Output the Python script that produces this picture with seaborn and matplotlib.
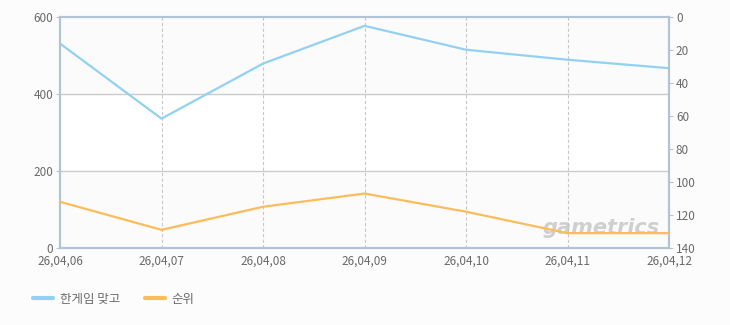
import matplotlib
matplotlib.use("Agg")
import matplotlib.pyplot as plt
import seaborn as sns
import pandas as pd

dates = ["26,04,06", "26,04,07", "26,04,08", "26,04,09", "26,04,10", "26,04,11", "26,04,12"]
users = [531, 336, 479, 577, 515, 489, 467]
rank = [112, 129, 115, 107, 118, 131, 131]
left_ticks = [0, 200, 400, 600]
right_ticks = [0, 20, 40, 60, 80, 100, 120, 140]
series_names = ["한게임 맞고", "순위"]

sns.set_style("white")
plt.rcParams['font.family'] = ['Noto Sans CJK KR', 'DejaVu Sans']

blue = "#92d1f1"
orange = "#fdbc5a"
spine_c = "#b3c3d6"
txt_c = "#6a6a6a"

df = pd.DataFrame({"x": range(len(dates)), "users": users, "rank": rank})

fig = plt.figure(figsize=(7.3, 3.25), dpi=100)
fig.patch.set_facecolor("#fcfcfc")
ax = fig.add_axes([60/730, 77/325, 609/730, 231/325])
ax.set_facecolor("white")

# background bands
ax.axhspan(400, 600, color="#fbfbfb", zorder=0)
ax.axhspan(0, 200, color="#fbfbfb", zorder=0)

sns.lineplot(data=df, x="x", y="users", ax=ax, color=blue, linewidth=1.6, zorder=3)
ax.set_xlim(0, len(dates) - 1)
ax.set_ylim(0, 600)
ax.set_yticks(left_ticks)
ax.set_xticks(range(len(dates)))
ax.set_xticklabels(dates)
ax.set_xlabel("")
ax.set_ylabel("")
for y in [200, 400]:
    ax.axhline(y, color="#cccccc", linewidth=1, zorder=1)
for i in range(1, len(dates) - 1):
    ax.axvline(i, color="#c8c8c8", linewidth=0.8, linestyle=(0, (3, 2)), zorder=1)

ax2 = ax.twinx()
sns.lineplot(data=df, x="x", y="rank", ax=ax2, color=orange, linewidth=1.6, zorder=3)
ax2.set_ylim(140, 0)
ax2.set_yticks(right_ticks)
ax2.set_ylabel("")
ax2.set_xlim(0, len(dates) - 1)

for a in (ax, ax2):
    for s in a.spines.values():
        s.set_color(spine_c)
        s.set_linewidth(1.5)
    a.tick_params(axis="both", labelsize=8.5, colors=txt_c, length=3, width=0.8, pad=2)
    a.tick_params(axis="both", color=spine_c)

ax.text(0.985, 0.045, "gametrics", transform=ax.transAxes, ha="right", va="bottom",
        fontsize=15, fontstyle="italic", fontweight="bold", color="#bdbdbd", alpha=0.7,
        family="DejaVu Sans", zorder=2)

from matplotlib.lines import Line2D
handles = [Line2D([], [], color=blue, linewidth=3), Line2D([], [], color=orange, linewidth=3)]
fig.legend(handles, series_names, loc="center left", bbox_to_anchor=(22/730, 1 - 299/325),
           ncol=2, frameon=False, fontsize=9, handlelength=1.6, handletextpad=0.5,
           columnspacing=2.0, labelcolor=txt_c)

fig.savefig("out.png", dpi=100, facecolor=fig.get_facecolor())
